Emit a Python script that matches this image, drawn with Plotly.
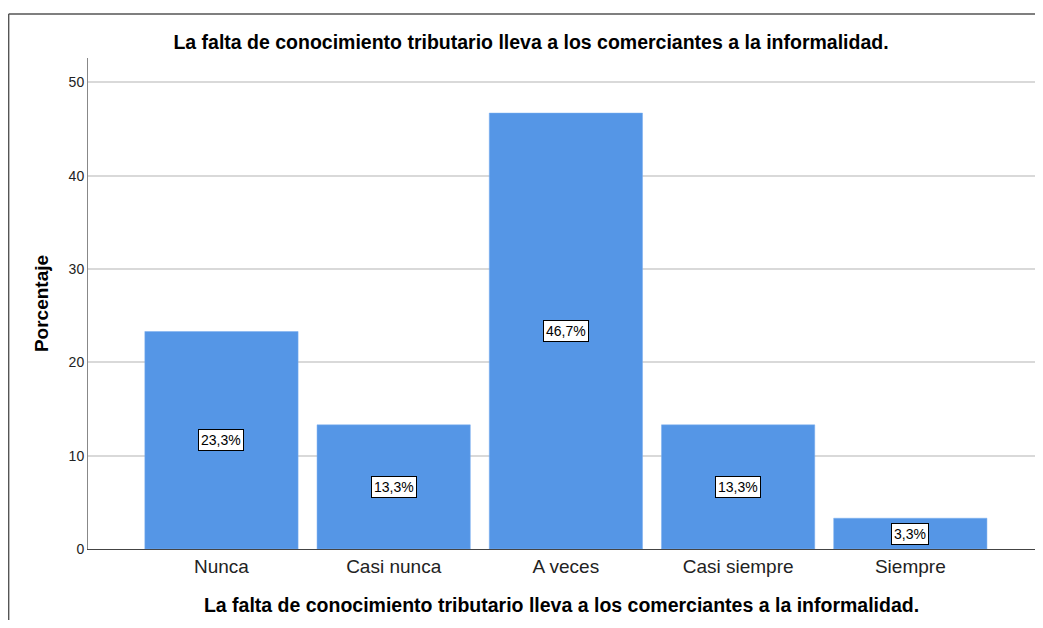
import plotly.graph_objects as go

categories = ["Nunca", "Casi nunca", "A veces", "Casi siempre", "Siempre"]
values = [23.3, 13.3, 46.7, 13.3, 3.3]
labels = ["23,3%", "13,3%", "46,7%", "13,3%", "3,3%"]
title = "La falta de conocimiento tributario lleva a los comerciantes a la informalidad."

font = "Liberation Sans, Arial, sans-serif"

fig = go.Figure()
fig.add_trace(go.Bar(
    x=list(range(len(categories))), y=values,
    width=0.89,
    marker=dict(color="#5596e6", line=dict(color="#7aaef0", width=0.5)),
    hoverinfo="skip",
))

for i, (v, lab) in enumerate(zip(values, labels)):
    fig.add_annotation(
        x=i, y=v / 2, text=lab, showarrow=False,
        font=dict(family=font, size=14, color="black"),
        bgcolor="white", bordercolor="black", borderwidth=1, borderpad=2,
    )

# outer frame (top and left edges visible in the reference)
frame = dict(color="#555555", width=1.5)
fig.add_shape(type="line", xref="paper", yref="paper",
              x0=-0.0838, x1=1.05, y0=1.0896, y1=1.0896, line=frame, layer="below")
fig.add_shape(type="line", xref="paper", yref="paper",
              x0=-0.0838, x1=-0.0838, y0=1.0896, y1=-0.3, line=frame, layer="below")

fig.update_layout(
    width=1027, height=612,
    margin=dict(l=80, r=0, t=50, b=71),
    paper_bgcolor="white", plot_bgcolor="white",
    showlegend=False,
    title=dict(text="<b>" + title + "</b>", x=(531 - 8) / 1027, xanchor="center",
               y=1 - 34 / 612, yanchor="middle",
               font=dict(family=font, size=19.5, color="black")),
    xaxis=dict(
        tickmode="array", tickvals=list(range(len(categories))), ticktext=categories,
        range=[-0.775, 4.724],
        showline=True, linecolor="#444444", linewidth=1,
        ticks="", showgrid=False, zeroline=False,
        tickfont=dict(family=font, size=19, color="#222222"),
        title=dict(text="<b>" + title + "</b>", standoff=22,
                   font=dict(family=font, size=19.5, color="black")),
    ),
    yaxis=dict(
        range=[0, 52.6], tickvals=[0, 10, 20, 30, 40, 50],
        showline=True, linecolor="#888888", linewidth=1,
        showgrid=True, gridcolor="#d9d9d9", gridwidth=1.5,
        zeroline=False, ticks="",
        tickfont=dict(family=font, size=14, color="#222222"),
        title=dict(text="<b>Porcentaje</b>", standoff=14,
                   font=dict(family=font, size=19, color="black")),
    ),
)

fig.write_html("out.html", config={"displayModeBar": False})
